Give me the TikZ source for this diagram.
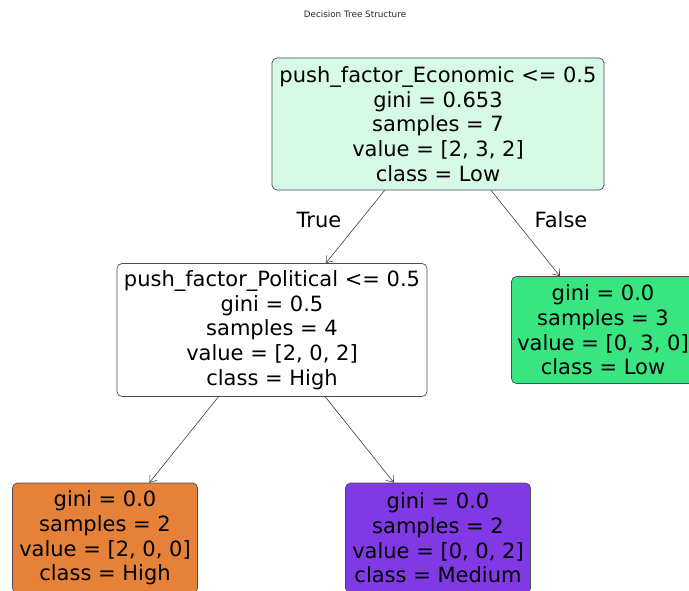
\documentclass[tikz,border=0pt]{standalone}
\usepackage{fontspec}
\setmainfont{DejaVu Sans}
\usetikzlibrary{arrows.meta}
\definecolor{economicfill}{RGB}{215,250,230}
\definecolor{lowfill}{RGB}{57,229,129}
\definecolor{highfill}{RGB}{229,129,57}
\definecolor{mediumfill}{RGB}{129,57,229}
\begin{document}
\begin{tikzpicture}
[x=1pt,y=-1pt,
  treenode/.style={draw=black!70,line width=0.7pt,rounded corners=5pt,align=center,
    inner sep=0pt,font=\fontsize{21}{24.7}\selectfont},
  branchlabel/.style={font=\fontsize{21}{24.7}\selectfont},
  treeedge/.style={-{Straight Barb[length=6pt,width=9pt]},black!75,line width=0.6pt}]
\useasboundingbox (0,0) rectangle (689,590);
%% title
\node (title) at (355,14) [font=\fontsize{8.8}{10}\selectfont,text=black!85]
  {Decision Tree Structure};
%% split nodes
\node (economic) at (438,124) [treenode,fill=economicfill,
  minimum width=332pt,minimum height=132pt]
  {push\_factor\_Economic <= 0.5\\gini = 0.653\\samples = 7\\value = [2, 3, 2]\\class = Low};
\node (political) at (272,330) [treenode,fill=white,
  minimum width=310pt,minimum height=133pt]
  {push\_factor\_Political <= 0.5\\gini = 0.5\\samples = 4\\value = [2, 0, 2]\\class = High};
%% leaves
\node (lowleaf) at (603,330) [treenode,fill=lowfill,
  minimum width=183pt,minimum height=107pt]
  {gini = 0.0\\samples = 3\\value = [0, 3, 0]\\class = Low};
\node (highleaf) at (105,538) [treenode,fill=highfill,
  minimum width=185pt,minimum height=110pt]
  {gini = 0.0\\samples = 2\\value = [2, 0, 0]\\class = High};
\node (mediumleaf) at (438,538) [treenode,fill=mediumfill,
  minimum width=185pt,minimum height=110pt]
  {gini = 0.0\\samples = 2\\value = [0, 0, 2]\\class = Medium};
%% edges
\path
\foreach \startnode/\endnode in {economic/political, economic/lowleaf,
  political/highleaf, political/mediumleaf} {
  (\startnode) edge[treeedge] (\endnode)
};
%% branch labels
\node (truelabel) at (319,220) [branchlabel] {True};
\node (falselabel) at (561,220) [branchlabel] {False};
\end{tikzpicture}
\end{document}
